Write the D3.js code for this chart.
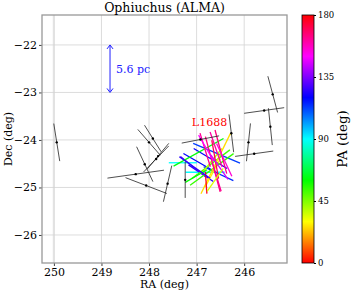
<!DOCTYPE html>
<html>
<head>
<meta charset="utf-8">
<script src="https://cdn.jsdelivr.net/npm/d3@7"></script>
<style>
  body { margin:0; background:#fff; }
  text { font-family: "DejaVu Serif", serif; fill:#000; }
</style>
</head>
<body>
<div id="chart"></div>
<script>
// black vectors (wide-field), center RA/Dec, PA and length in deg
const blackRA  = [249.94, 245.40, 245.58, 245.45, 245.79, 245.91, 246.27, 246.92, 247.24, 247.61, 248.28, 248.06, 248.09, 247.92, 248.00, 247.85, 247.81];
const blackDec = [-24.05, -23.04, -23.38, -23.72, -24.29, -24.05, -23.86, -23.99, -24.84, -24.92, -24.72, -24.96, -24.51, -23.97, -24.05, -24.40, -24.34];
const blackPA  = [171, 165, 82, 174, 82, 6, 173, 79, 0, 13, 82, 111, 155, 148, 139, 44, 40];
const blackLen = [0.80, 0.79, 0.85, 0.78, 0.81, 0.80, 0.80, 0.80, 0.76, 0.78, 1.20, 0.93, 0.81, 0.66, 0.72, 0.76, 0.70];

// ALMA vectors in L1688, coloured by PA
const almaRA  = [247.29, 246.82, 246.58, 246.54, 246.94, 246.91, 247.08, 246.71, 246.96, 246.68, 246.70, 246.68, 246.60, 246.66, 246.82, 246.66, 246.59, 246.61, 246.49, 246.58, 246.80, 246.80, 246.42, 246.52, 247.01, 246.61, 247.04];
const almaDec = [-24.48, -24.68, -24.28, -24.71, -24.48, -24.70, -24.56, -24.39, -24.26, -24.62, -24.51, -24.44, -24.50, -24.69, -24.21, -24.51, -24.20, -24.41, -24.25, -24.77, -24.90, -24.17, -24.42, -24.57, -24.76, -24.84, -24.58];
const almaPA  = [90, 90, 113, 115, 120, 124, 129, 121, 61, 54, 53, 39, 26, 28, 163, 165, 161, 170, 165, 163, 176, 150, 155, 145, 60, 35, 125];
const almaLen = [0.59, 0.82, 1.07, 0.69, 0.78, 0.63, 0.67, 0.82, 1.20, 1.13, 1.00, 0.67, 1.41, 0.67, 0.74, 1.20, 0.78, 0.82, 0.95, 0.65, 0.46, 0.63, 0.76, 0.63, 0.53, 0.59, 0.79];

const xTicks = [250, 249, 248, 247, 246];
const yTicks = [-22, -23, -24, -25, -26];
const cbTicks = [0, 45, 90, 135, 180];

const W = 354, H = 294;
const m = { top:15, left:42, right:67, bottom:31 };
const iw = W - m.left - m.right, ih = H - m.top - m.bottom;

const svg = d3.select("#chart").append("svg").attr("width", W).attr("height", H);
const g = svg.append("g").attr("transform", `translate(${m.left},${m.top})`);

const x = d3.scaleLinear().domain([250.25, 245.1]).range([0, iw]);
const y = d3.scaleLinear().domain([-21.37, -26.59]).range([0, ih]);
// hsv-like map, 0..180 deg -> full hue circle
const color = pa => d3.hsl(pa / 180 * 360, 1, 0.5).formatHex();

// grid
g.selectAll(".gx").data(xTicks).enter().append("line")
  .attr("x1", d=>x(d)).attr("x2", d=>x(d)).attr("y1", 0).attr("y2", ih)
  .attr("stroke", d=> d===250 ? "#e2e2e2" : "#d3d3d3")
  .attr("stroke-width", d=> d===250 ? 2.2 : 0.8);
g.selectAll(".gy").data(yTicks).enter().append("line")
  .attr("x1", 0).attr("x2", iw).attr("y1", d=>y(d)).attr("y2", d=>y(d))
  .attr("stroke", "#d3d3d3").attr("stroke-width", 0.8);

// axes
const gx = g.append("g").attr("transform", `translate(0,${ih})`)
  .call(d3.axisBottom(x).tickValues(xTicks).tickSize(3).tickPadding(2).tickFormat(d3.format("d")));
const gy = g.append("g")
  .call(d3.axisLeft(y).tickValues(yTicks).tickSize(3).tickPadding(2).tickFormat(d=>"\u2212"+Math.abs(d)));
[gx, gy].forEach(a => {
  a.select(".domain").remove();
  a.selectAll("text").style("font-family","DejaVu Serif").style("font-size","11px").attr("fill","#000");
  a.selectAll("line").attr("stroke","#444");
});

// segments helper: ends from center, PA and length
function ends(ra, dec, pa, len) {
  const t = pa * Math.PI / 180, h = len / 2;
  return [x(ra + Math.sin(t)*h), y(dec - Math.cos(t)*h), x(ra - Math.sin(t)*h), y(dec + Math.cos(t)*h)];
}

const clip = svg.append("clipPath").attr("id","clip").append("rect").attr("width", iw).attr("height", ih);
const plot = g.append("g").attr("clip-path","url(#clip)");

const alma = almaRA.map((ra,i)=>({ra, dec:almaDec[i], pa:almaPA[i], len:almaLen[i]}));
plot.selectAll(".alma").data(alma).enter().append("line")
  .attr("x1", d=>ends(d.ra,d.dec,d.pa,d.len)[0]).attr("y1", d=>ends(d.ra,d.dec,d.pa,d.len)[1])
  .attr("x2", d=>ends(d.ra,d.dec,d.pa,d.len)[2]).attr("y2", d=>ends(d.ra,d.dec,d.pa,d.len)[3])
  .attr("stroke", d=>color(d.pa)).attr("stroke-width", 1.3);

const black = blackRA.map((ra,i)=>({ra, dec:blackDec[i], pa:blackPA[i], len:blackLen[i]}));
plot.selectAll(".blk").data(black).enter().append("line")
  .attr("x1", d=>ends(d.ra,d.dec,d.pa,d.len)[0]).attr("y1", d=>ends(d.ra,d.dec,d.pa,d.len)[1])
  .attr("x2", d=>ends(d.ra,d.dec,d.pa,d.len)[2]).attr("y2", d=>ends(d.ra,d.dec,d.pa,d.len)[3])
  .attr("stroke", "#222").attr("stroke-width", 0.8);
plot.selectAll(".dot").data(black).enter().append("circle")
  .attr("cx", d=>x(d.ra)).attr("cy", d=>y(d.dec)).attr("r", 1.2).attr("fill","#000");

// scale bar 5.6 pc (1 deg in Dec)
const sbRA = 248.82;
const bar = g.append("g").attr("stroke","#2020ff").attr("fill","none").attr("stroke-width",1);
bar.append("line").attr("x1", x(sbRA)).attr("x2", x(sbRA)).attr("y1", y(-22)+1).attr("y2", y(-23)-1);
bar.append("path").attr("d", `M${x(sbRA)-3},${y(-22)+4}L${x(sbRA)},${y(-22)}L${x(sbRA)+3},${y(-22)+4}`);
bar.append("path").attr("d", `M${x(sbRA)-3},${y(-23)-4}L${x(sbRA)},${y(-23)}L${x(sbRA)+3},${y(-23)-4}`);
g.append("text").attr("x", x(sbRA)+6).attr("y", y(-22.5)+4).text("5.6 pc")
  .style("font-size","11px").style("fill","#2020ff");

g.append("text").attr("x", x(247.1)).attr("y", y(-23.7)).text("L1688")
  .style("font-size","11px").style("fill","#ff0000");

// frame
g.append("rect").attr("width", iw).attr("height", ih).attr("fill","none")
  .attr("stroke","#999").attr("stroke-width",1.3);

// titles
svg.append("text").attr("x", m.left + iw/2).attr("y", 12).attr("text-anchor","middle")
  .style("font-size","12.5px").text("Ophiuchus (ALMA)");
svg.append("text").attr("x", m.left + iw/2).attr("y", 288).attr("text-anchor","middle")
  .style("font-size","11px").text("RA (deg)");
svg.append("text").attr("transform", `translate(12,${m.top + ih/2}) rotate(-90)`).attr("text-anchor","middle")
  .style("font-size","11px").text("Dec (deg)");

// colorbar
const cb = { x:302, y:m.top, w:12, h:ih };
const cy = d3.scaleLinear().domain([0,180]).range([cb.y+cb.h, cb.y]);
const grad = svg.append("defs").append("linearGradient").attr("id","cbg")
  .attr("x1","0").attr("y1","1").attr("x2","0").attr("y2","0");
grad.selectAll("stop").data(d3.range(0, 181, 10)).enter().append("stop")
  .attr("offset", d=>d/180).attr("stop-color", d=>color(d));
svg.append("rect").attr("x", cb.x).attr("y", cb.y).attr("width", cb.w).attr("height", cb.h)
  .attr("fill","url(#cbg)").attr("stroke","#000").attr("stroke-width",0.8);
const ga = svg.append("g").attr("transform", `translate(${cb.x+cb.w},0)`)
  .call(d3.axisRight(cy).tickValues(cbTicks).tickSize(2).tickPadding(2));
ga.select(".domain").remove();
ga.selectAll("text").style("font-family","DejaVu Serif").style("font-size","8.5px").attr("fill","#000");
svg.append("text").attr("transform", `translate(347,${cb.y + cb.h/2}) rotate(-90)`).attr("text-anchor","middle")
  .style("font-size","13.5px").text("PA (deg)");
</script>
</body>
</html>
